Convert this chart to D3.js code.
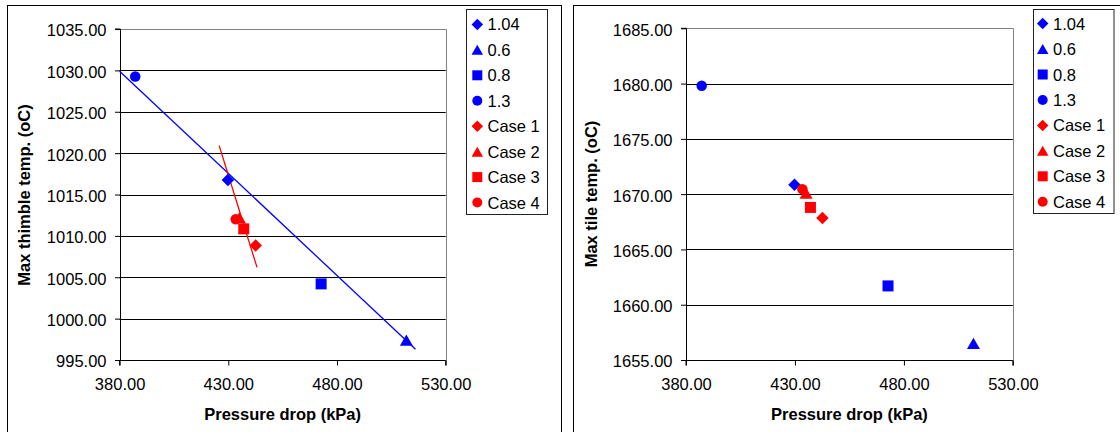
<!DOCTYPE html>
<html><head><meta charset="utf-8">
<script src="https://cdn.jsdelivr.net/npm/d3@7"></script>
<style>
html,body{margin:0;padding:0;background:#fff;}
svg text{font-family:"Liberation Sans",Arial,sans-serif;}
</style></head>
<body>
<svg id="c" width="1120" height="432"></svg>
<script>
// ---- data ----
const blueLabels = ["1.04", "0.6", "0.8", "1.3"];
const redLabels = ["Case 1", "Case 2", "Case 3", "Case 4"];
const shapes = ["diamond", "triangle", "square", "circle"];
const blueX = [429.8, 511.9, 472.7, 387.2];
const redX = [442.6, 435.1, 437.1, 433.4];
const thimbleBlue = [1016.75, 997.4, 1004.2, 1029.25];
const thimbleRed = [1008.85, 1012.2, 1010.85, 1012.0];
const tileBlue = [1670.85, 1656.5, 1661.7, 1679.8];
const tileRed = [1667.85, 1670.1, 1668.8, 1670.45];
const thimbleBlueTrend = [[380, 1029.9], [516.1, 996.3]];
const thimbleRedTrend = [[425.8, 1020.9], [443.2, 1006.2]];
const xTicks = [380, 430, 480, 530];
const thimbleTicks = [995, 1000, 1005, 1010, 1015, 1020, 1025, 1030, 1035];
const tileTicks = [1655, 1660, 1665, 1670, 1675, 1680, 1685];

const BLUE = "#0000FF", RED = "#FF0000";
const svg = d3.select("#c");
const FS = 16.5;

// s = nominal marker width in px
function symbolPath(shape, s) {
  if (shape === "diamond") return d3.symbol(d3.symbolSquare, s * s * 0.5)();
  if (shape === "triangle") return d3.symbol(d3.symbolTriangle, s * s * 0.433)();
  if (shape === "square") return d3.symbol(d3.symbolSquare, s * s)();
  return d3.symbol(d3.symbolCircle, Math.PI * (s * 0.5) * (s * 0.5))();
}
function drawMarker(g, shape, cx, cy, color, s) {
  let tr = `translate(${cx},${cy})`;
  if (shape === "diamond") tr += " rotate(45)";
  if (shape === "triangle") tr += ` translate(0,${s * 0.866 / 6})`;
  g.append("path").attr("d", symbolPath(shape, s)).attr("transform", tr).attr("fill", color);
}

function chart(cfg) {
  const g = svg.append("g");
  // outer frame
  g.append("rect").attr("x", cfg.frame[0] + 0.5).attr("y", 5.5)
    .attr("width", cfg.frame[1] - cfg.frame[0]).attr("height", 460)
    .attr("fill", "none").attr("stroke", "#000").attr("stroke-width", 1);

  const x = d3.scaleLinear().domain([380, 530]).range(cfg.xr);
  const y = d3.scaleLinear().domain(cfg.yd).range(cfg.yr);

  // gridlines
  g.append("g").selectAll("line").data(cfg.yTicks.slice(1, -1)).join("line")
    .attr("x1", cfg.xr[0]).attr("x2", cfg.xr[1])
    .attr("y1", d => Math.round(y(d)) + 0.5).attr("y2", d => Math.round(y(d)) + 0.5)
    .attr("stroke", "#000").attr("stroke-width", 1);
  // plot border top/right gray
  const top = Math.round(cfg.yr[1]) + 0.5, right = Math.round(cfg.xr[1]) + 0.5;
  g.append("path").attr("d", `M${cfg.xr[0]},${top}H${right}V${Math.round(cfg.yr[0]) + 0.5}`)
    .attr("fill", "none").attr("stroke", "#808080").attr("stroke-width", 1);

  // axes
  const ax = g.append("g").attr("transform", `translate(0,${Math.round(cfg.yr[0]) + 0.5})`)
    .call(d3.axisBottom(x).tickValues(xTicks).tickSize(5).tickPadding(12.5).tickFormat(d3.format(".2f")));
  const ay = g.append("g").attr("transform", `translate(${Math.round(cfg.xr[0]) + 0.5},0)`)
    .call(d3.axisLeft(y).tickValues(cfg.yTicks).tickSize(5.5).tickPadding(8.5).tickFormat(d3.format(".2f")));
  [ax, ay].forEach(a => {
    a.select(".domain").attr("stroke", "#000");
    a.selectAll(".tick line").attr("stroke", "#000");
    a.selectAll(".tick text").attr("font-size", FS).attr("fill", "#000")
      .attr("font-family", "Liberation Sans, Arial, sans-serif");
  });
  ay.selectAll(".tick text").attr("dy", "0.42em");
  ay.select(".domain").attr("d", `M-5.5,${cfg.yr[1]}H0V${cfg.yr[0]}`);
  ax.select(".domain").attr("d", `M${cfg.xr[0]},5V0H${cfg.xr[1]}V5`);

  // axis titles
  g.append("text").attr("x", (cfg.xr[0] + cfg.xr[1]) / 2).attr("y", 420)
    .attr("text-anchor", "middle").attr("font-size", FS).attr("font-weight", "bold")
    .text("Pressure drop (kPa)");
  g.append("text").attr("transform", `translate(${cfg.ytx},${cfg.yty}) rotate(-90)`)
    .attr("text-anchor", "middle").attr("font-size", FS).attr("font-weight", "bold")
    .text(cfg.ytitle);

  // trendlines
  (cfg.trends || []).forEach(t => {
    g.append("line").attr("x1", x(t.d[0][0])).attr("y1", y(t.d[0][1]))
      .attr("x2", x(t.d[1][0])).attr("y2", y(t.d[1][1]))
      .attr("stroke", t.c).attr("stroke-width", 1.3);
  });

  // points
  const pts = g.append("g");
  const sz = {diamond: 12.5, triangle: 13, square: 11, circle: 10.5};
  shapes.forEach((sh, i) => drawMarker(pts, sh, x(blueX[i]), y(cfg.blue[i]), BLUE, sz[sh]));
  shapes.forEach((sh, i) => drawMarker(pts, sh, x(redX[i]), y(cfg.red[i]), RED, sz[sh]));

  // legend
  const L = cfg.legend;
  g.append("rect").attr("x", L.x + 0.5).attr("y", L.y + 0.5).attr("width", L.w).attr("height", L.h)
    .attr("fill", "#fff").attr("stroke", "#222").attr("stroke-width", 1);
  const lsz = {diamond: 11.5, triangle: 11.5, square: 10, circle: 10};
  const entries = blueLabels.map((l, i) => ({l, sh: shapes[i], c: BLUE}))
    .concat(redLabels.map((l, i) => ({l, sh: shapes[i], c: RED})));
  entries.forEach((e, i) => {
    const cy = L.row0 + i * 25.45;
    drawMarker(g, e.sh, L.mx, cy, e.c, lsz[e.sh]);
    g.append("text").attr("x", L.tx).attr("y", cy + 6).attr("font-size", FS).text(e.l);
  });
}

chart({
  frame: [7, 561], xr: [119.6, 445.7], yd: [995, 1035], yr: [360, 29], yTicks: thimbleTicks,
  blue: thimbleBlue, red: thimbleRed, ytitle: "Max thimble temp. (oC)", ytx: 30, yty: 195,
  trends: [{d: thimbleBlueTrend, c: BLUE}, {d: thimbleRedTrend, c: RED}],
  legend: {x: 466, y: 9, w: 81, h: 205, row0: 24.4, mx: 477.3, tx: 487.5}
});
chart({
  frame: [573, 1200], xr: [686, 1012.9], yd: [1655, 1685], yr: [360, 28.3], yTicks: tileTicks,
  blue: tileBlue, red: tileRed, ytitle: "Max tile temp. (oC)", ytx: 597, yty: 194,
  trends: [],
  legend: {x: 1033, y: 9, w: 80.5, h: 204, row0: 23.6, mx: 1042.7, tx: 1053}
});
</script>
</body></html>
